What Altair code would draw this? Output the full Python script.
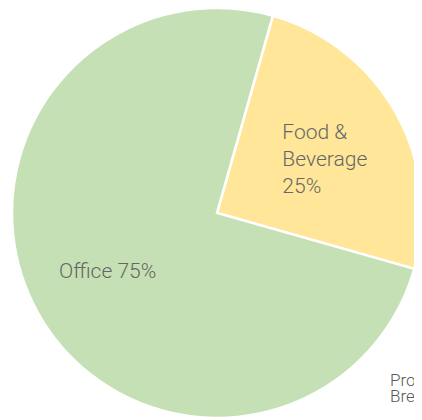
import math
import altair as alt
import pandas as pd

categories = ["Food & Beverage", "Office"]
values = [25, 75]
labels = ["Food &\nBeverage\n25%", "Office 75%"]
colors = ["#FFE699", "#C5E0B4"]

df = pd.DataFrame({"category": categories, "value": values, "label": labels})

start = math.radians(15.8)
theta_scale = alt.Scale(range=[start, start + 2 * math.pi])
cx, cy = 209, 205

pie = alt.Chart(df).mark_arc(radius=205, stroke="white", strokeWidth=2.5).encode(
    theta=alt.Theta("value:Q", stack=True, scale=theta_scale),
    order=alt.Order("category:N"),
    color=alt.Color("category:N", scale=alt.Scale(domain=categories, range=colors), legend=None),
    x=alt.value(cx),
    y=alt.value(cy),
)

lab_base = alt.Chart(df).transform_window(
    cum="sum(value)", sort=[alt.SortField("category")]
).transform_calculate(
    mid="datum.cum - datum.value / 2"
).encode(
    theta=alt.Theta("mid:Q", stack=False, scale=theta_scale),
    text="label:N",
    x=alt.value(cx),
    y=alt.value(cy),
)

txt_kw = dict(font="Roboto", fontWeight=300, fontSize=21, color="#666666",
              lineHeight=27, lineBreak="\n")

lab_fb = lab_base.mark_text(radius=123, align="left", dx=-42, dy=-20, **txt_kw).transform_filter(
    alt.datum.category == "Food & Beverage")

lab_off = lab_base.mark_text(radius=123, align="center", dx=-2, dy=-1, **txt_kw).transform_filter(
    alt.datum.category == "Office")

note_df = pd.DataFrame({"t": ["Property\nBreakdown"]})
note = alt.Chart(note_df).mark_text(
    align="left", baseline="alphabetic", font="Roboto", fontWeight=300, fontSize=17,
    color="#595959", lineHeight=16, lineBreak="\n"
).encode(text="t:N", x=alt.value(382), y=alt.value(378))

chart = alt.layer(pie, lab_fb, lab_off, note).properties(
    width=406, height=412, padding=0, autosize=alt.AutoSizeParams(type="none")
).configure_view(stroke=None)

chart.save("out.html", embed_options={"renderer": "svg", "actions": False})
